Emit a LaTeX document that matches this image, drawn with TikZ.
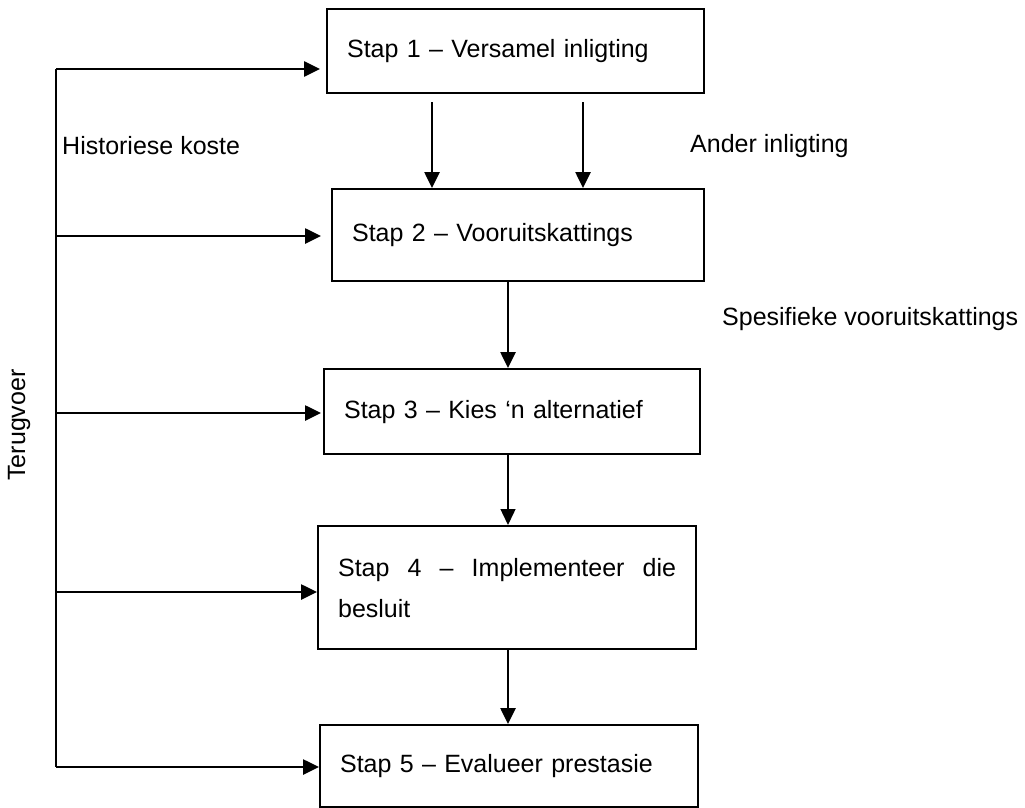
\documentclass[tikz,border=0pt]{standalone}
\usepackage{fontspec}
\setmainfont{Liberation Sans}
\usetikzlibrary{arrows.meta}
\begin{document}
\begin{tikzpicture}[x=1pt,y=-1pt,
  font=\fontsize{25}{41}\selectfont,
  stepbox/.style={draw, line width=2.2pt, rectangle, anchor=north west,
    inner xsep=20pt, inner ysep=0pt, align=left},
  flow/.style={line width=2.6pt, -{Triangle[length=16pt,width=15pt]}},
  thinflow/.style={line width=1.4pt, -{Triangle[length=16pt,width=15pt]}},
  tag/.style={anchor=west, inner sep=0pt}]
\useasboundingbox (0,0) rectangle (1025,808);

% the five steps
\node[stepbox, minimum width=377pt, text width=337pt, minimum height=84pt]
  (b1) at (326,8) {Stap 1 – Versamel inligting};
\node[stepbox, minimum width=372pt, text width=332pt, minimum height=92pt]
  (b2) at (331,188) {Stap 2 – Vooruitskattings};
\node[stepbox, minimum width=376pt, text width=336pt, minimum height=85pt]
  (b3) at (323,368) {Stap 3 – Kies ‘n alternatief};
\node[stepbox, minimum width=378pt, text width=338pt, minimum height=123pt]
  (b4) at (317,525)
  {\makebox[338pt]{Stap\hfill 4\hfill –\hfill Implementeer\hfill die}\\besluit};
\node[stepbox, minimum width=378pt, text width=338pt, minimum height=82pt]
  (b5) at (319,724) {Stap 5 – Evalueer prestasie};

% labels
\node[tag] (hk) at (62,146) {Historiese koste};
\node[tag] (ai) at (690,146) {Ander inligting};
\node[tag] (sv) at (722,319) {Spesifieke vooruitskattings};
\node[rotate=90, inner sep=0pt] (tv) at (19,425) {Terugvoer};

% feedback spine
\coordinate (f1) at (56,69);
\coordinate (f2) at (56,236);
\coordinate (f3) at (56,413);
\coordinate (f4) at (56,592);
\coordinate (f5) at (56,767);
\draw[line width=2.2pt] (f1) -- (f5);
\draw[flow, shorten >=6pt] (f1) -- (f1 -| b1.west);
\draw[flow, shorten >=10pt] (f2) -- (f2 -| b2.west);
\draw[flow, shorten >=2pt] (f3) -- (f3 -| b3.west);
\draw[flow] (f4) -- (f4 -| b4.west);
\draw[flow] (f5) -- (f5 -| b5.west);

% downward flow
\coordinate (xa) at (432,0);
\coordinate (xb) at (583,0);
\coordinate (xc) at (508,0);
\draw[flow, shorten <=8pt] (b1.south -| xa) -- (b2.north -| xa);
\draw[flow, shorten <=8pt] (b1.south -| xb) -- (b2.north -| xb);
\draw[flow] (b2.south -| xc) -- (b3.north -| xc);
\draw[thinflow] (b3.south -| xc) -- (b4.north -| xc);
\draw[flow] (b4.south -| xc) -- (b5.north -| xc);
\end{tikzpicture}
\end{document}
